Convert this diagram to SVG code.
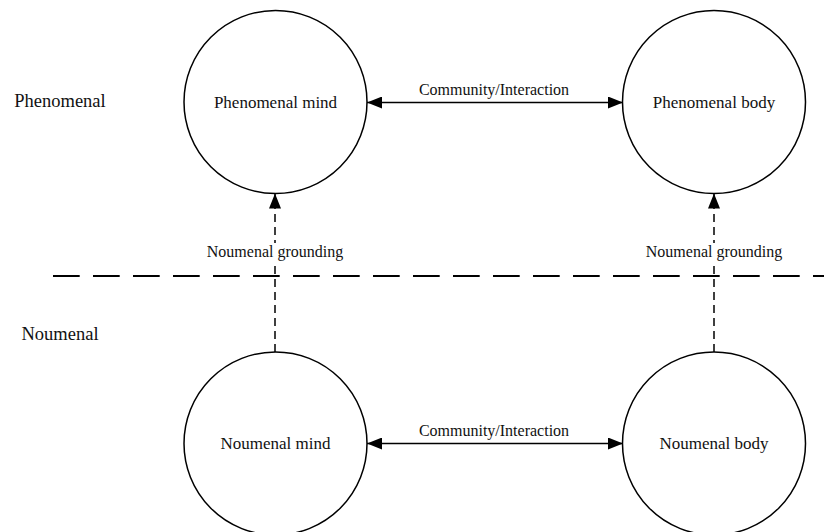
<svg xmlns="http://www.w3.org/2000/svg" width="824" height="532" viewBox="0 0 824 532">
<style>
.node{fill:#fff;stroke:#000;stroke-width:1.5}
.nl{font-family:"Liberation Serif","Times New Roman",serif;font-size:17px;text-anchor:middle;fill:#111}
.el{font-family:"Liberation Serif","Times New Roman",serif;font-size:16px;text-anchor:middle;fill:#111}
.side{font-family:"Liberation Serif","Times New Roman",serif;font-size:18.5px;text-anchor:middle;fill:#111}
.solid{stroke:#000;stroke-width:1.5;fill:none}
.dash{stroke:#000;stroke-width:1.5;fill:none;stroke-dasharray:8 5}
</style>
<defs>
<marker id="ah" markerUnits="userSpaceOnUse" markerWidth="16" markerHeight="12" refX="15" refY="6" orient="auto-start-reverse">
<path d="M0,0 L15,6 L0,12 Z" fill="#000"/>
</marker>
</defs>
<rect width="824" height="532" fill="#fff"/>
<g id="divider">
<line x1="53" y1="276" x2="824" y2="276" stroke="#000" stroke-width="2" stroke-dasharray="26.7 13.3"/>
</g>
<g id="side-labels">
<text class="side" x="60" y="107">Phenomenal</text>
<text class="side" x="60" y="340">Noumenal</text>
</g>
<g id="connectors">
<line class="solid" x1="367" y1="102.5" x2="623" y2="102.5" marker-start="url(#ah)" marker-end="url(#ah)"/>
<text class="el" x="494" y="95">Community/Interaction</text>
<line class="solid" x1="367" y1="443.5" x2="623" y2="443.5" marker-start="url(#ah)" marker-end="url(#ah)"/>
<text class="el" x="494" y="436">Community/Interaction</text>
<line class="dash" x1="275" y1="352" x2="275" y2="193.5" marker-end="url(#ah)"/>
<rect x="206" y="243" width="138" height="20" fill="#fff"/>
<text class="el" x="275" y="257">Noumenal grounding</text>
<line class="dash" x1="714" y1="352" x2="714" y2="193.5" marker-end="url(#ah)"/>
<rect x="645" y="243" width="138" height="20" fill="#fff"/>
<text class="el" x="714" y="257">Noumenal grounding</text>
</g>
<g id="phenomenal-mind">
<circle class="node" cx="275.5" cy="102" r="91.5"/>
<text class="nl" x="275.5" y="108">Phenomenal mind</text>
</g>
<g id="phenomenal-body">
<circle class="node" cx="714" cy="102" r="91.5"/>
<text class="nl" x="714" y="108">Phenomenal body</text>
</g>
<g id="noumenal-mind">
<circle class="node" cx="275.5" cy="443.5" r="91.5"/>
<text class="nl" x="275.5" y="449">Noumenal mind</text>
</g>
<g id="noumenal-body">
<circle class="node" cx="714" cy="443.5" r="91.5"/>
<text class="nl" x="714" y="449">Noumenal body</text>
</g>
</svg>
